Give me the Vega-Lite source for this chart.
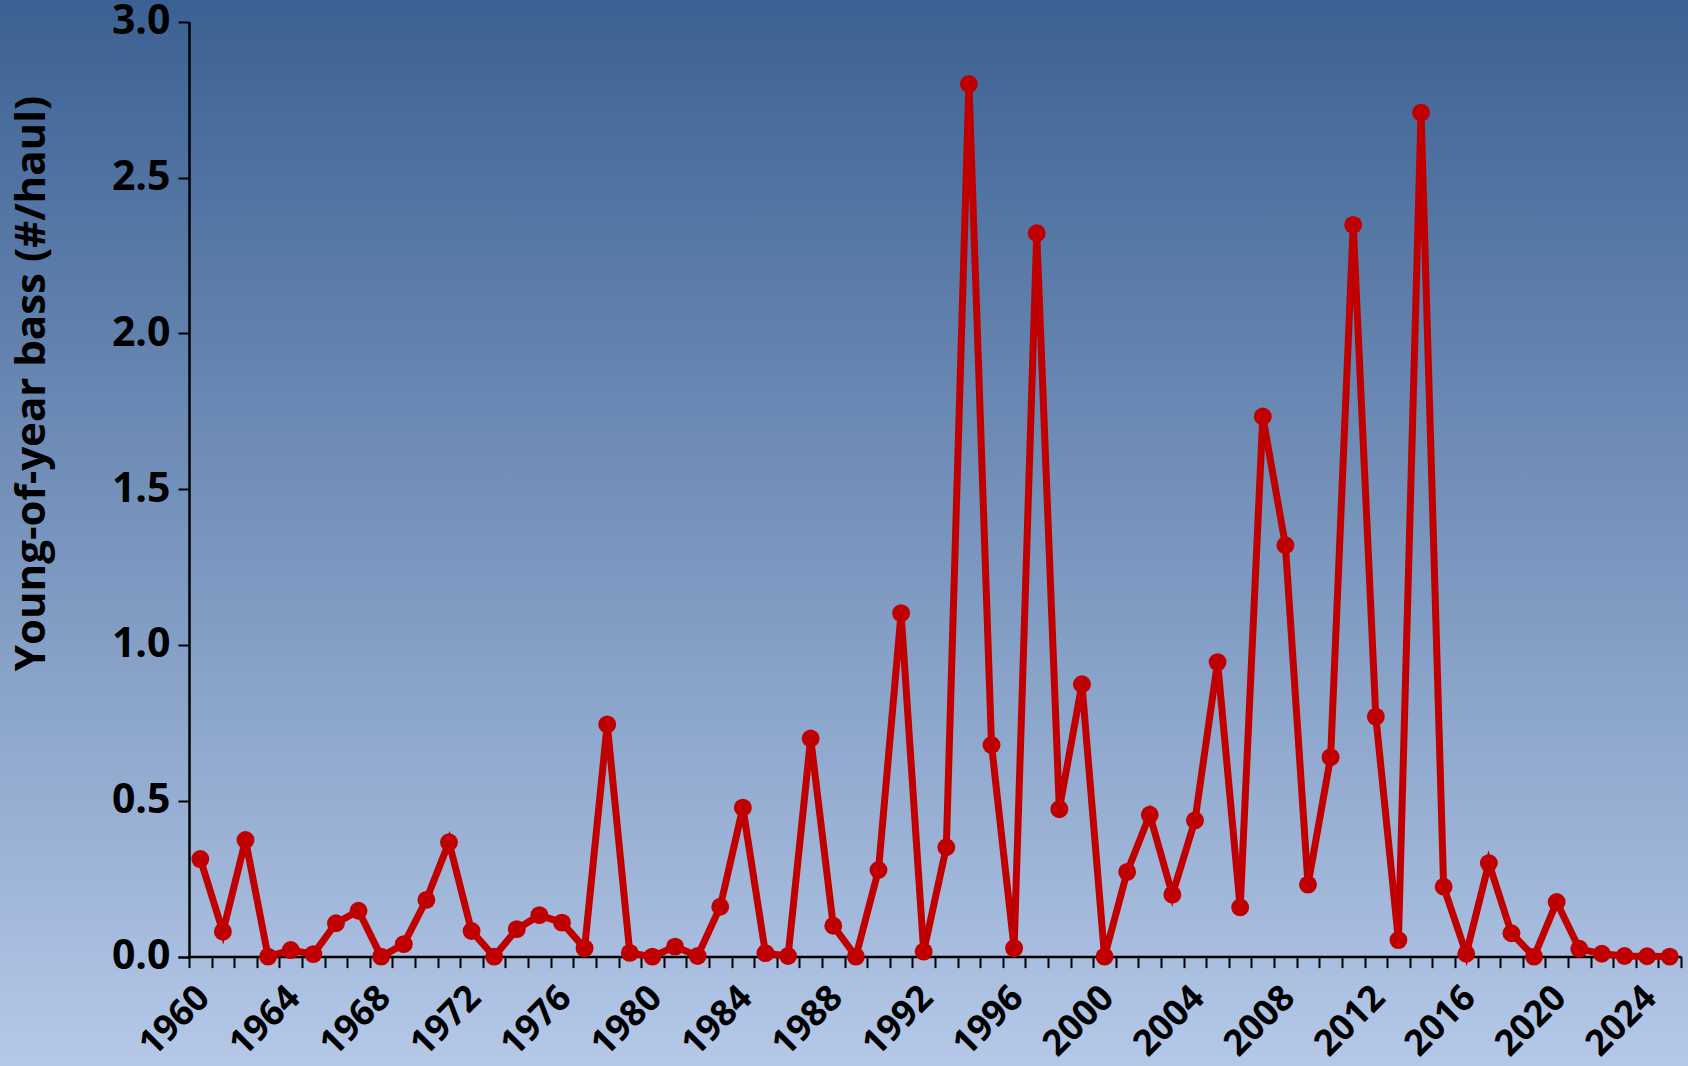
{
  "$schema": "https://vega.github.io/schema/vega-lite/v6.json",
  "width": 1688,
  "height": 1066,
  "autosize": "none",
  "padding": 0,
  "background": "#7a96be",
  "view": {
    "stroke": null,
    "fill": {
      "gradient": "linear",
      "x1": 0, "y1": 0, "x2": 0, "y2": 1,
      "stops": [
        {"offset": 0, "color": "#3b6192"},
        {"offset": 1, "color": "#b5c8e8"}
      ]
    }
  },
  "config": {
    "font": "Open Sans",
    "axis": {"grid": false, "tickBand": "extent"}
  },
  "data": {
    "values": [
      {"year": 1960, "value": 0.313}, {"year": 1961, "value": 0.080}, {"year": 1962, "value": 0.374},
      {"year": 1963, "value": 0.0}, {"year": 1964, "value": 0.021}, {"year": 1965, "value": 0.008},
      {"year": 1966, "value": 0.107}, {"year": 1967, "value": 0.147}, {"year": 1968, "value": 0.0},
      {"year": 1969, "value": 0.040}, {"year": 1970, "value": 0.182}, {"year": 1971, "value": 0.367},
      {"year": 1972, "value": 0.082}, {"year": 1973, "value": 0.0}, {"year": 1974, "value": 0.088},
      {"year": 1975, "value": 0.133}, {"year": 1976, "value": 0.109}, {"year": 1977, "value": 0.027},
      {"year": 1978, "value": 0.745}, {"year": 1979, "value": 0.012}, {"year": 1980, "value": 0.0},
      {"year": 1981, "value": 0.032}, {"year": 1982, "value": 0.002}, {"year": 1983, "value": 0.160},
      {"year": 1984, "value": 0.478}, {"year": 1985, "value": 0.011}, {"year": 1986, "value": 0.002},
      {"year": 1987, "value": 0.700}, {"year": 1988, "value": 0.099}, {"year": 1989, "value": 0.0},
      {"year": 1990, "value": 0.278}, {"year": 1991, "value": 1.102}, {"year": 1992, "value": 0.016},
      {"year": 1993, "value": 0.351}, {"year": 1994, "value": 2.800}, {"year": 1995, "value": 0.679},
      {"year": 1996, "value": 0.027}, {"year": 1997, "value": 2.321}, {"year": 1998, "value": 0.473},
      {"year": 1999, "value": 0.874}, {"year": 2000, "value": 0.0}, {"year": 2001, "value": 0.272},
      {"year": 2002, "value": 0.455}, {"year": 2003, "value": 0.199}, {"year": 2004, "value": 0.437},
      {"year": 2005, "value": 0.945}, {"year": 2006, "value": 0.158}, {"year": 2007, "value": 1.733},
      {"year": 2008, "value": 1.320}, {"year": 2009, "value": 0.231}, {"year": 2010, "value": 0.640},
      {"year": 2011, "value": 2.348}, {"year": 2012, "value": 0.770}, {"year": 2013, "value": 0.053},
      {"year": 2014, "value": 2.708}, {"year": 2015, "value": 0.224}, {"year": 2016, "value": 0.009},
      {"year": 2017, "value": 0.300}, {"year": 2018, "value": 0.075}, {"year": 2019, "value": 0.0},
      {"year": 2020, "value": 0.175}, {"year": 2021, "value": 0.025}, {"year": 2022, "value": 0.009},
      {"year": 2023, "value": 0.002}, {"year": 2024, "value": 0.001}, {"year": 2025, "value": 0.0}
    ]
  },
  "encoding": {
    "x": {
      "field": "year",
      "type": "ordinal",
      "sort": "ascending",
      "scale": {"type": "band", "range": [189, 1681], "paddingInner": 0, "paddingOuter": 0},
      "axis": {
        "orient": "bottom",
        "offset": -109.4,
        "title": null,
        "labelExpr": "datum.value % 4 == 0 ? datum.label : ''",
        "labelAngle": -45,
        "labelFont": "Open Sans",
        "labelFontSize": 36,
        "labelFontWeight": "bold",
        "labelColor": "#000000",
        "labelPadding": 12,
        "labelOffset": -9,
        "labelOverlap": false,
        "tickColor": "#000000",
        "tickSize": 11,
        "tickWidth": 2,
        "domainColor": "#000000",
        "domainWidth": 2.5
      }
    },
    "y": {
      "field": "value",
      "type": "quantitative",
      "scale": {"domain": [0, 3], "range": [956.6, 21.7], "nice": false, "zero": true},
      "axis": {
        "orient": "left",
        "offset": -189,
        "values": [0, 0.5, 1, 1.5, 2, 2.5, 3],
        "format": ".1f",
        "labelFont": "Open Sans",
        "labelFontSize": 41,
        "labelFontWeight": "bold",
        "labelColor": "#000000",
        "labelPadding": 8,
        "tickColor": "#000000",
        "tickSize": 11,
        "tickWidth": 2,
        "domainColor": "#000000",
        "domainWidth": 2.5,
        "title": "Young-of-year bass (#/haul)",
        "titleFont": "Open Sans",
        "titleFontSize": 42,
        "titleFontWeight": "bold",
        "titleColor": "#000000",
        "titleAngle": -90,
        "titleAnchor": "middle",
        "titleBaseline": "bottom",
        "titleAlign": "center",
        "titleX": -136,
        "titleY": 383
      }
    }
  },
  "layer": [
    {"mark": {"type": "line", "color": "#c00000", "strokeWidth": 7, "strokeJoin": "miter"}},
    {"mark": {"type": "point", "filled": true, "color": "#c00000", "opacity": 1, "size": 320}}
  ]
}
